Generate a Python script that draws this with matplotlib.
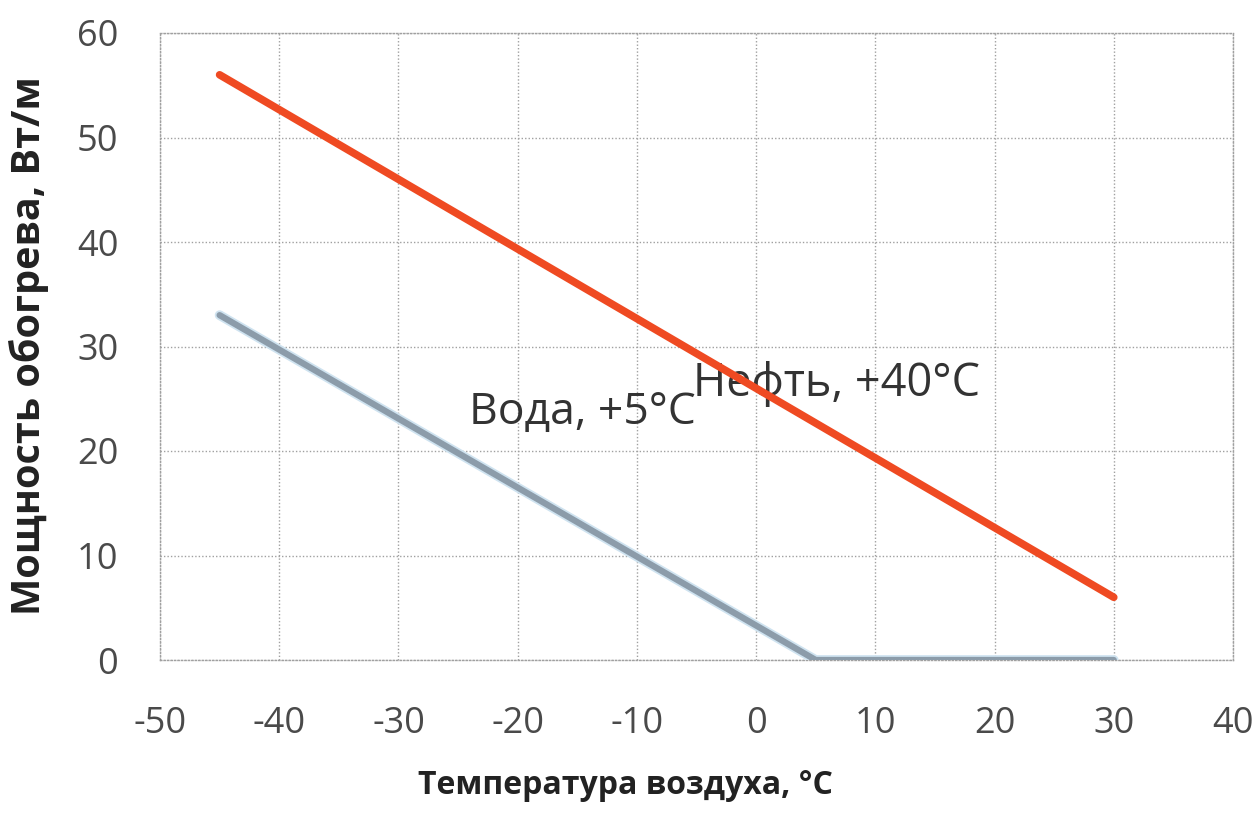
import matplotlib.pyplot as plt

plt.rcParams['font.family'] = ['Open Sans', 'DejaVu Sans']
plt.rcParams['axes.unicode_minus'] = False

oil_t = [-45, 30]
oil_p = [56, 6]
water_t = [-45, 5, 30]
water_p = [33, 0, 0]

xticks = [-50, -40, -30, -20, -10, 0, 10, 20, 30, 40]
yticks = [0, 10, 20, 30, 40, 50, 60]

fig = plt.figure(figsize=(12.54, 8.16), dpi=100)
ax = fig.add_axes([160/1254, 1 - 660/816, (1233-160)/1254, (660-33)/816])

# water line with a pale blue halo
ax.plot(water_t, water_p, color='#cfe3f0', lw=7, solid_capstyle='round', zorder=3)
ax.plot(water_t, water_p, color='#8c9caa', lw=4.5, solid_capstyle='round', zorder=3)
ax.plot(oil_t, oil_p, color='#ef4a22', lw=5.5, solid_capstyle='round', zorder=4)

ax.text(-5.3, 26.4, 'Нефть, +40°C', fontsize=32.5, color='#333333', va='center', ha='left')
ax.text(-24.1, 23.6, 'Вода, +5°C', fontsize=32, color='#333333', va='center', ha='left')

ax.set_xlim(-50, 40)
ax.set_ylim(0, 60)
ax.set_xticks(xticks)
ax.set_yticks(yticks)
ax.grid(True, color='#a0a0a0', ls=(0, (1, 1.5)), lw=1)
for s in ax.spines.values():
    s.set_color('#a0a0a0')
    s.set_linestyle((0, (1, 1.5)))
    s.set_linewidth(1)
ax.tick_params(length=0, labelsize=26, labelcolor='#4a4a4a')
ax.tick_params(axis='x', pad=33)
ax.tick_params(axis='y', pad=30)

ax.set_xlabel('Температура воздуха, °C', fontsize=23, fontweight='bold', color='#222222')
ax.xaxis.set_label_coords((625 - 160) / (1233 - 160), -(785 - 660) / (660 - 33))
ax.xaxis.label.set_va('center')
ax.set_ylabel('Мощность обогрева, Вт/м', fontsize=28.5, fontweight='bold', color='#222222')
ax.yaxis.set_label_coords(-(160 - 29) / (1233 - 160), (660 - 346) / (660 - 33))
ax.yaxis.label.set_va('center')

fig.savefig('out.png', dpi=100)
